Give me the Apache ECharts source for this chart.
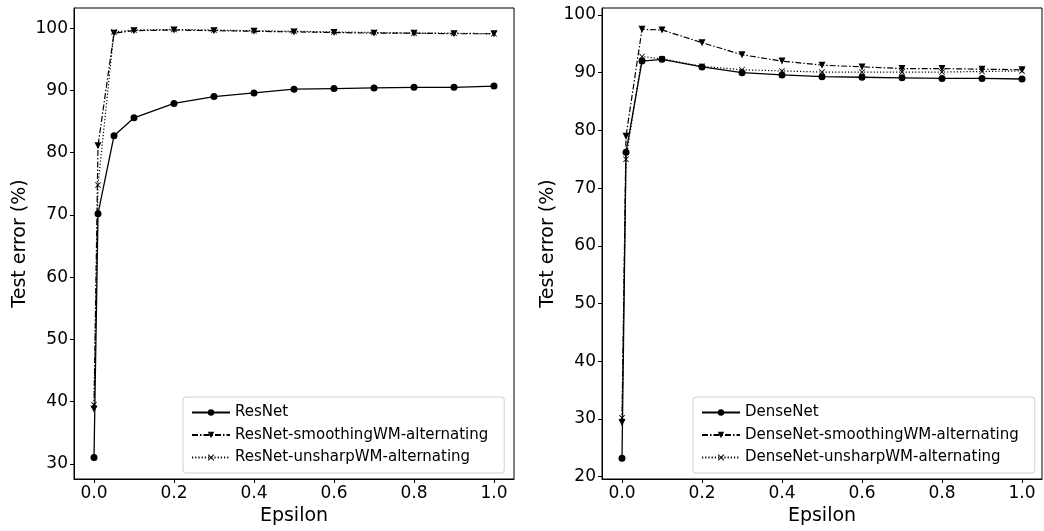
<!DOCTYPE html>
<html>
<head>
<meta charset="utf-8">
<script src="https://cdn.jsdelivr.net/npm/echarts@6/dist/echarts.min.js"></script>
<style>
  html, body { margin: 0; padding: 0; background: #fff; }
  #chart { width: 1044px; height: 531px; }
</style>
</head>
<body>
<div id="chart"></div>
<script>
// epsilon values (x)
const epsilons = [0, 0.01, 0.05, 0.1, 0.2, 0.3, 0.4, 0.5, 0.6, 0.7, 0.8, 0.9, 1.0];

// left panel
const resnet = [31.0, 70.2, 82.7, 85.6, 87.9, 89.0, 89.6, 90.2, 90.3, 90.4, 90.5, 90.5, 90.7];
const resnetSmoothing = [38.8, 81.1, 99.2, 99.6, 99.7, 99.6, 99.5, 99.4, 99.3, 99.2, 99.2, 99.1, 99.1];
const resnetUnsharp = [39.5, 74.8, 99.4, 99.7, 99.8, 99.7, 99.6, 99.5, 99.4, 99.3, 99.2, 99.2, 99.1];

// right panel
const densenet = [23.2, 76.2, 92.0, 92.3, 91.0, 90.0, 89.6, 89.3, 89.2, 89.1, 89.0, 89.0, 88.9];
const densenetSmoothing = [29.4, 79.0, 97.5, 97.4, 95.2, 93.1, 92.0, 91.3, 91.0, 90.7, 90.7, 90.6, 90.5];
const densenetUnsharp = [30.2, 75.0, 92.8, 92.4, 91.1, 90.5, 90.3, 90.1, 90.1, 90.1, 90.1, 90.2, 90.3];

const xTicks = [0, 0.2, 0.4, 0.6, 0.8, 1.0];
const yTicksLeft = [30, 40, 50, 60, 70, 80, 90, 100];
const yTicksRight = [20, 30, 40, 50, 60, 70, 80, 90, 100];

const FONT = 'DejaVu Sans';
const xMarker = 'path://M0,1L1,0L5,4L9,0L10,1L6,5L10,9L9,10L5,6L1,10L0,9L4,5Z';

function pairs(ys) {
    return epsilons.map(function (x, i) { return [x, ys[i]]; });
}

function xAxis(gridIndex) {
    return {
        type: 'value', gridIndex: gridIndex, min: -0.05, max: 1.05,
        name: 'Epsilon', nameLocation: 'middle', nameGap: 27,
        nameTextStyle: { fontFamily: FONT, fontSize: 19, color: '#000' },
        axisLine: { show: true, onZero: false, lineStyle: { color: '#000', width: 1 } },
        axisTick: { show: true, length: 4, customValues: xTicks, lineStyle: { color: '#000' } },
        axisLabel: {
            customValues: xTicks, fontFamily: FONT, fontSize: 17, color: '#000', margin: 6,
            formatter: function (v) { return v.toFixed(1); }
        },
        splitLine: { show: false }
    };
}

function yAxis(gridIndex, min, max, ticks) {
    return {
        type: 'value', gridIndex: gridIndex, min: min, max: max,
        name: 'Test error (%)', nameLocation: 'middle', nameGap: 44,
        nameTextStyle: { fontFamily: FONT, fontSize: 19, color: '#000' },
        axisLine: { show: true, onZero: false, lineStyle: { color: '#000', width: 1 } },
        axisTick: { show: true, length: 4, customValues: ticks, lineStyle: { color: '#000' } },
        axisLabel: { customValues: ticks, fontFamily: FONT, fontSize: 17, color: '#000', margin: 6 },
        splitLine: { show: false }
    };
}

function solid(name, ys, idx) {
    return {
        name: name, type: 'line', xAxisIndex: idx, yAxisIndex: idx, data: pairs(ys),
        symbol: 'circle', symbolSize: 7, showAllSymbol: true,
        lineStyle: { color: '#000', width: 1.3, type: 'solid' },
        itemStyle: { color: '#000' }, z: 3
    };
}

function dashdot(name, ys, idx) {
    return {
        name: name, type: 'line', xAxisIndex: idx, yAxisIndex: idx, data: pairs(ys),
        symbol: 'triangle', symbolRotate: 180, symbolSize: 7, showAllSymbol: true,
        lineStyle: { color: '#000', width: 1.2, type: [6, 2, 1.5, 2] },
        itemStyle: { color: '#000' }, z: 2
    };
}

function dotted(name, ys, idx) {
    return {
        name: name, type: 'line', xAxisIndex: idx, yAxisIndex: idx, data: pairs(ys),
        symbol: xMarker, symbolSize: 6, showAllSymbol: true,
        lineStyle: { color: '#000', width: 1.2, type: [1.2, 2] },
        itemStyle: { color: '#000' }, z: 2
    };
}

function legend(left, names) {
    return {
        data: names, orient: 'vertical', left: left, top: 397,
        itemWidth: 38, itemHeight: 8, itemGap: 5.5,
        padding: [7, 16, 7, 8],
        backgroundColor: 'rgba(255,255,255,0.8)',
        borderColor: '#d0d0d0', borderWidth: 1, borderRadius: 3,
        textStyle: { fontFamily: FONT, fontSize: 15, color: '#000', lineHeight: 17 }
    };
}

var myChart = echarts.init(document.getElementById('chart'));

option = {
    animation: false,
    backgroundColor: '#fff',
    grid: [
        { left: 74, top: 8, width: 440, height: 471, show: true, borderColor: '#000', borderWidth: 1 },
        { left: 602, top: 8, width: 440, height: 471, show: true, borderColor: '#000', borderWidth: 1 }
    ],
    legend: [
        legend(183, ['ResNet', 'ResNet-smoothingWM-alternating', 'ResNet-unsharpWM-alternating']),
        legend(693, ['DenseNet', 'DenseNet-smoothingWM-alternating', 'DenseNet-unsharpWM-alternating'])
    ],
    xAxis: [xAxis(0), xAxis(1)],
    yAxis: [yAxis(0, 27.56, 103.24, yTicksLeft), yAxis(1, 19.6, 101.2, yTicksRight)],
    series: [
        solid('ResNet', resnet, 0),
        dashdot('ResNet-smoothingWM-alternating', resnetSmoothing, 0),
        dotted('ResNet-unsharpWM-alternating', resnetUnsharp, 0),
        solid('DenseNet', densenet, 1),
        dashdot('DenseNet-smoothingWM-alternating', densenetSmoothing, 1),
        dotted('DenseNet-unsharpWM-alternating', densenetUnsharp, 1)
    ]
};
myChart.setOption(option);
</script>
</body>
</html>
